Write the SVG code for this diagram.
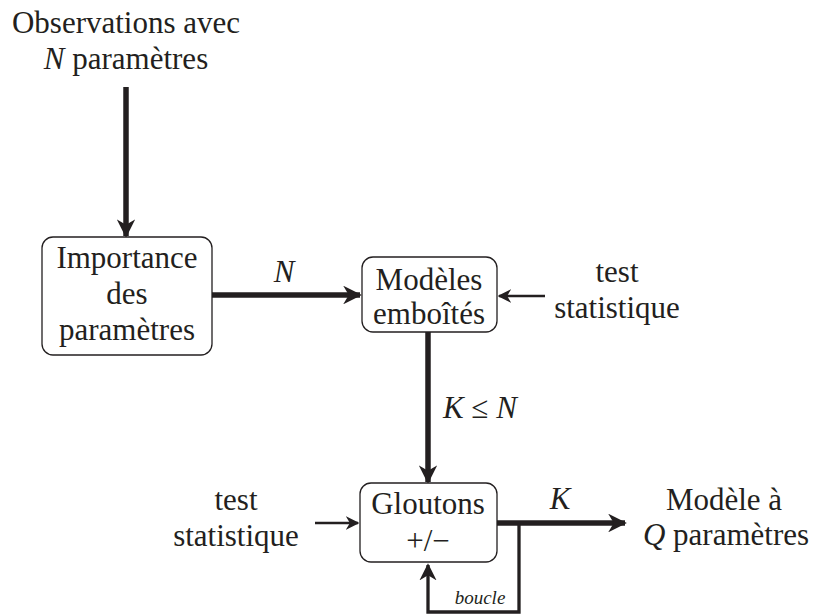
<svg xmlns="http://www.w3.org/2000/svg" width="814" height="615" viewBox="0 0 814 615">
<style>
text{font-size:31px;fill:#231f20;text-anchor:middle}
.it{font-style:italic}
.sm{font-size:19px;font-style:italic}
.box{fill:#fff;stroke:#231f20;stroke-width:1.3}
.thick{stroke:#231f20;stroke-width:5.5;fill:none}
.thin{stroke:#231f20;stroke-width:2.6;fill:none}
.loop{stroke:#231f20;stroke-width:3.3;fill:none}
</style>
<defs>
<marker id="ah" viewBox="0 0 10 10" refX="9" refY="5" markerWidth="3.4" markerHeight="3.4" markerUnits="strokeWidth" orient="auto"><path d="M0,0 L10,5 L0,10 L3,5 Z" fill="#231f20"/></marker>
<marker id="ah2" viewBox="0 0 10 10" refX="9" refY="5" markerWidth="5.2" markerHeight="5.2" markerUnits="strokeWidth" orient="auto"><path d="M0,0 L10,5 L0,10 L3,5 Z" fill="#231f20"/></marker>
</defs>
<rect width="814" height="615" fill="#fff"/>
<g font-family="Liberation Serif, serif">
<g id="connectors">
<line class="thick" x1="126" y1="87" x2="126" y2="236" marker-end="url(#ah)"/>
<line class="thick" x1="212" y1="295" x2="360" y2="295" marker-end="url(#ah)"/>
<line class="thin" x1="545" y1="296" x2="499" y2="296" marker-end="url(#ah2)"/>
<line class="thick" x1="428" y1="332" x2="428" y2="482" marker-end="url(#ah)"/>
<line class="thin" x1="315" y1="523" x2="358" y2="523" marker-end="url(#ah2)"/>
<line class="thick" x1="497" y1="523" x2="625" y2="523" marker-end="url(#ah)"/>
<polyline class="loop" points="519,523 519,612 428,612 428,565" marker-end="url(#ah2)"/>
<text class="it" x="284" y="282">N</text>
<text x="480" y="418"><tspan class="it">K</tspan> ≤ <tspan class="it">N</tspan></text>
<text class="it" x="560" y="509">K</text>
<text class="sm" x="480" y="604">boucle</text>
</g>
<g id="observations">
<text x="126" y="33">Observations avec</text>
<text x="126" y="69"><tspan class="it">N</tspan> paramètres</text>
</g>
<g id="importance">
<rect class="box" x="42" y="237" width="170" height="118" rx="11"/>
<text x="127" y="268">Importance</text>
<text x="127" y="304">des</text>
<text x="127" y="340">paramètres</text>
</g>
<g id="modeles">
<rect class="box" x="362" y="257" width="135" height="75" rx="11"/>
<text x="429" y="290">Modèles</text>
<text x="429" y="324">emboîtés</text>
</g>
<g id="test1">
<text x="617" y="282">test</text>
<text x="617" y="318">statistique</text>
</g>
<g id="gloutons">
<rect class="box" x="360" y="483" width="137" height="79" rx="11"/>
<text x="428" y="514">Gloutons</text>
<text x="428" y="551" font-size="33">+/−</text>
</g>
<g id="test2">
<text x="236" y="510">test</text>
<text x="236" y="546">statistique</text>
</g>
<g id="modele">
<text x="724" y="510">Modèle à</text>
<text x="726" y="545"><tspan class="it">Q</tspan> paramètres</text>
</g>
</g>
</svg>
